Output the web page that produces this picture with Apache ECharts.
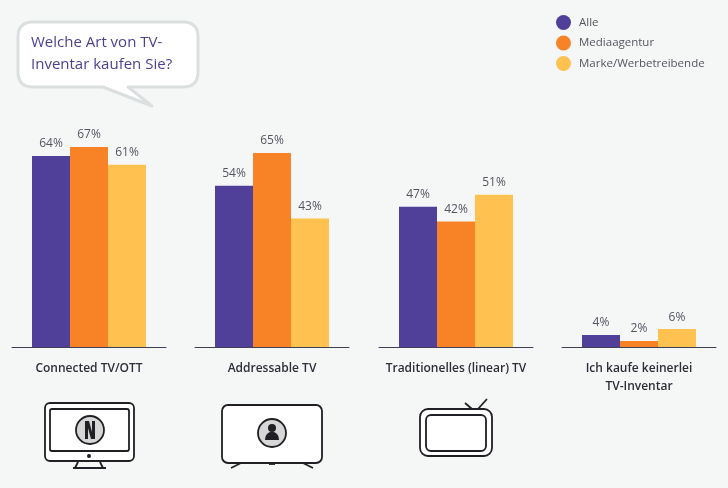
<!DOCTYPE html>
<html>
<head>
<meta charset="utf-8">
<style>
html, body { margin: 0; padding: 0; background: #f5f7f7; }
#main { width: 728px; height: 488px; }
</style>
<script src="https://cdn.jsdelivr.net/npm/echarts@6/dist/echarts.min.js"></script>
</head>
<body>
<div id="main"></div>
<script>
const categories = ['Connected TV/OTT', 'Addressable TV', 'Traditionelles (linear) TV', 'Ich kaufe keinerlei\nTV-Inventar'];
const seriesNames = ['Alle', 'Mediaagentur', 'Marke/Werbetreibende'];
const alle = [64, 54, 47, 4];
const mediaagentur = [67, 65, 42, 2];
const marke = [61, 43, 51, 6];

const colors = ['#50409a', '#f78326', '#ffc250'];
const gridLefts = [12, 195, 379, 562];
const values = [alle, mediaagentur, marke];
const ink = '#1f1f24';

const grids = [], xAxes = [], yAxes = [], series = [];
categories.forEach(function (cat, i) {
    grids.push({ left: gridLefts[i], width: 154, top: 138, height: 209 });
    xAxes.push({
        gridIndex: i,
        type: 'category',
        data: [cat],
        axisTick: { show: false },
        axisLine: { lineStyle: { color: '#3f3f55', width: 1 } },
        axisLabel: {
            margin: 13,
            color: '#2e2e38',
            fontFamily: 'Open Sans',
            fontSize: 12,
            fontWeight: 600,
            lineHeight: 18,
            interval: 0
        }
    });
    yAxes.push({ gridIndex: i, type: 'value', min: 0, max: 70, show: false });
    seriesNames.forEach(function (name, s) {
        series.push({
            name: name,
            type: 'bar',
            xAxisIndex: i,
            yAxisIndex: i,
            data: [values[s][i]],
            barWidth: 38,
            barGap: 0,
            itemStyle: { color: colors[s] },
            label: {
                show: true,
                position: 'top',
                distance: 6,
                formatter: '{c}%',
                color: '#555560',
                fontFamily: 'Open Sans',
                fontSize: 12
            }
        });
    });
});

// the graphic component has no path type, so these outlines are registered as shapes
echarts.graphic.registerShape('speechBubble', echarts.graphic.extendPath(
    'M33 22 H183 Q198 22 198 37 V72 Q198 87 183 87 H128 L152 106 L103 87 H33 Q18 87 18 72 V37 Q18 22 33 22 Z', {}));
echarts.graphic.registerShape('personBody', echarts.graphic.extendPath(
    'M265 440 Q265 434 270 432 H274 Q279 434 279 440 Z', {}));

function box(x, y, w, h, r, fill) {
    return { type: 'rect', shape: { x: x, y: y, width: w, height: h, r: r }, style: { fill: fill, stroke: ink, lineWidth: 1.8 } };
}
function stroke(x1, y1, x2, y2) {
    return { type: 'line', shape: { x1: x1, y1: y1, x2: x2, y2: y2 }, style: { stroke: ink, lineWidth: 1.8 } };
}
function disc(cx, cy, r, fill, lineWidth) {
    return { type: 'circle', shape: { cx: cx, cy: cy, r: r }, style: { fill: fill, stroke: ink, lineWidth: lineWidth } };
}

const bubble = {
    type: 'speechBubble',
    style: { fill: '#ffffff', stroke: '#dcdfe0', lineWidth: 3, lineJoin: 'round' }
};

const connectedTv = [
    box(45, 403, 89, 58, 5, '#ffffff'),
    box(50, 409, 79, 42, 2, '#ffffff'),
    disc(90, 430, 14, '#d6d6d6', 1.8),
    { type: 'polygon', shape: { points: [[85, 421], [89, 421], [92, 432], [92, 421], [95, 421], [95, 439], [91, 439], [88, 428], [88, 439], [85, 439]] }, style: { fill: ink } },
    disc(89, 456, 2, ink, 0),
    stroke(78, 462, 75, 468),
    stroke(100, 462, 103, 468),
    stroke(73, 468, 106, 468)
];

const addressableTv = [
    box(222, 405, 100, 58, 6, '#ffffff'),
    disc(272, 433, 14, '#d6d6d6', 1.8),
    disc(272, 428, 4, ink, 0),
    { type: 'personBody', style: { fill: ink } },
    stroke(241, 463, 231, 468),
    stroke(303, 463, 313, 468),
    stroke(269, 464, 275, 464)
];

const linearTv = [
    stroke(465, 403, 472, 409),
    stroke(487, 399, 478, 409),
    box(420, 409, 72, 47, 8, '#ffffff'),
    box(426, 415, 60, 36, 5, '#ffffff')
];

const option = {
    backgroundColor: '#f5f7f7',
    animation: false,
    title: {
        text: 'Welche Art von TV-\nInventar kaufen Sie?',
        left: 31,
        top: 32,
        padding: 0,
        z: 10,
        textStyle: {
            color: '#4b3f8f',
            fontFamily: 'Open Sans',
            fontSize: 15,
            fontWeight: 500,
            lineHeight: 22
        }
    },
    legend: {
        data: seriesNames,
        orient: 'vertical',
        left: 556,
        top: 15,
        padding: 0,
        icon: 'circle',
        itemWidth: 15,
        itemHeight: 15,
        itemGap: 5.5,
        selectedMode: false,
        textStyle: {
            color: '#555560',
            fontFamily: 'Open Sans',
            fontSize: 11.5,
            padding: [0, 0, 0, 3]
        }
    },
    grid: grids,
    xAxis: xAxes,
    yAxis: yAxes,
    series: series,
    graphic: { elements: [bubble].concat(connectedTv, addressableTv, linearTv) }
};

const chart = echarts.init(document.getElementById('main'), null, { renderer: 'canvas' });
chart.setOption(option);
</script>
</body>
</html>
